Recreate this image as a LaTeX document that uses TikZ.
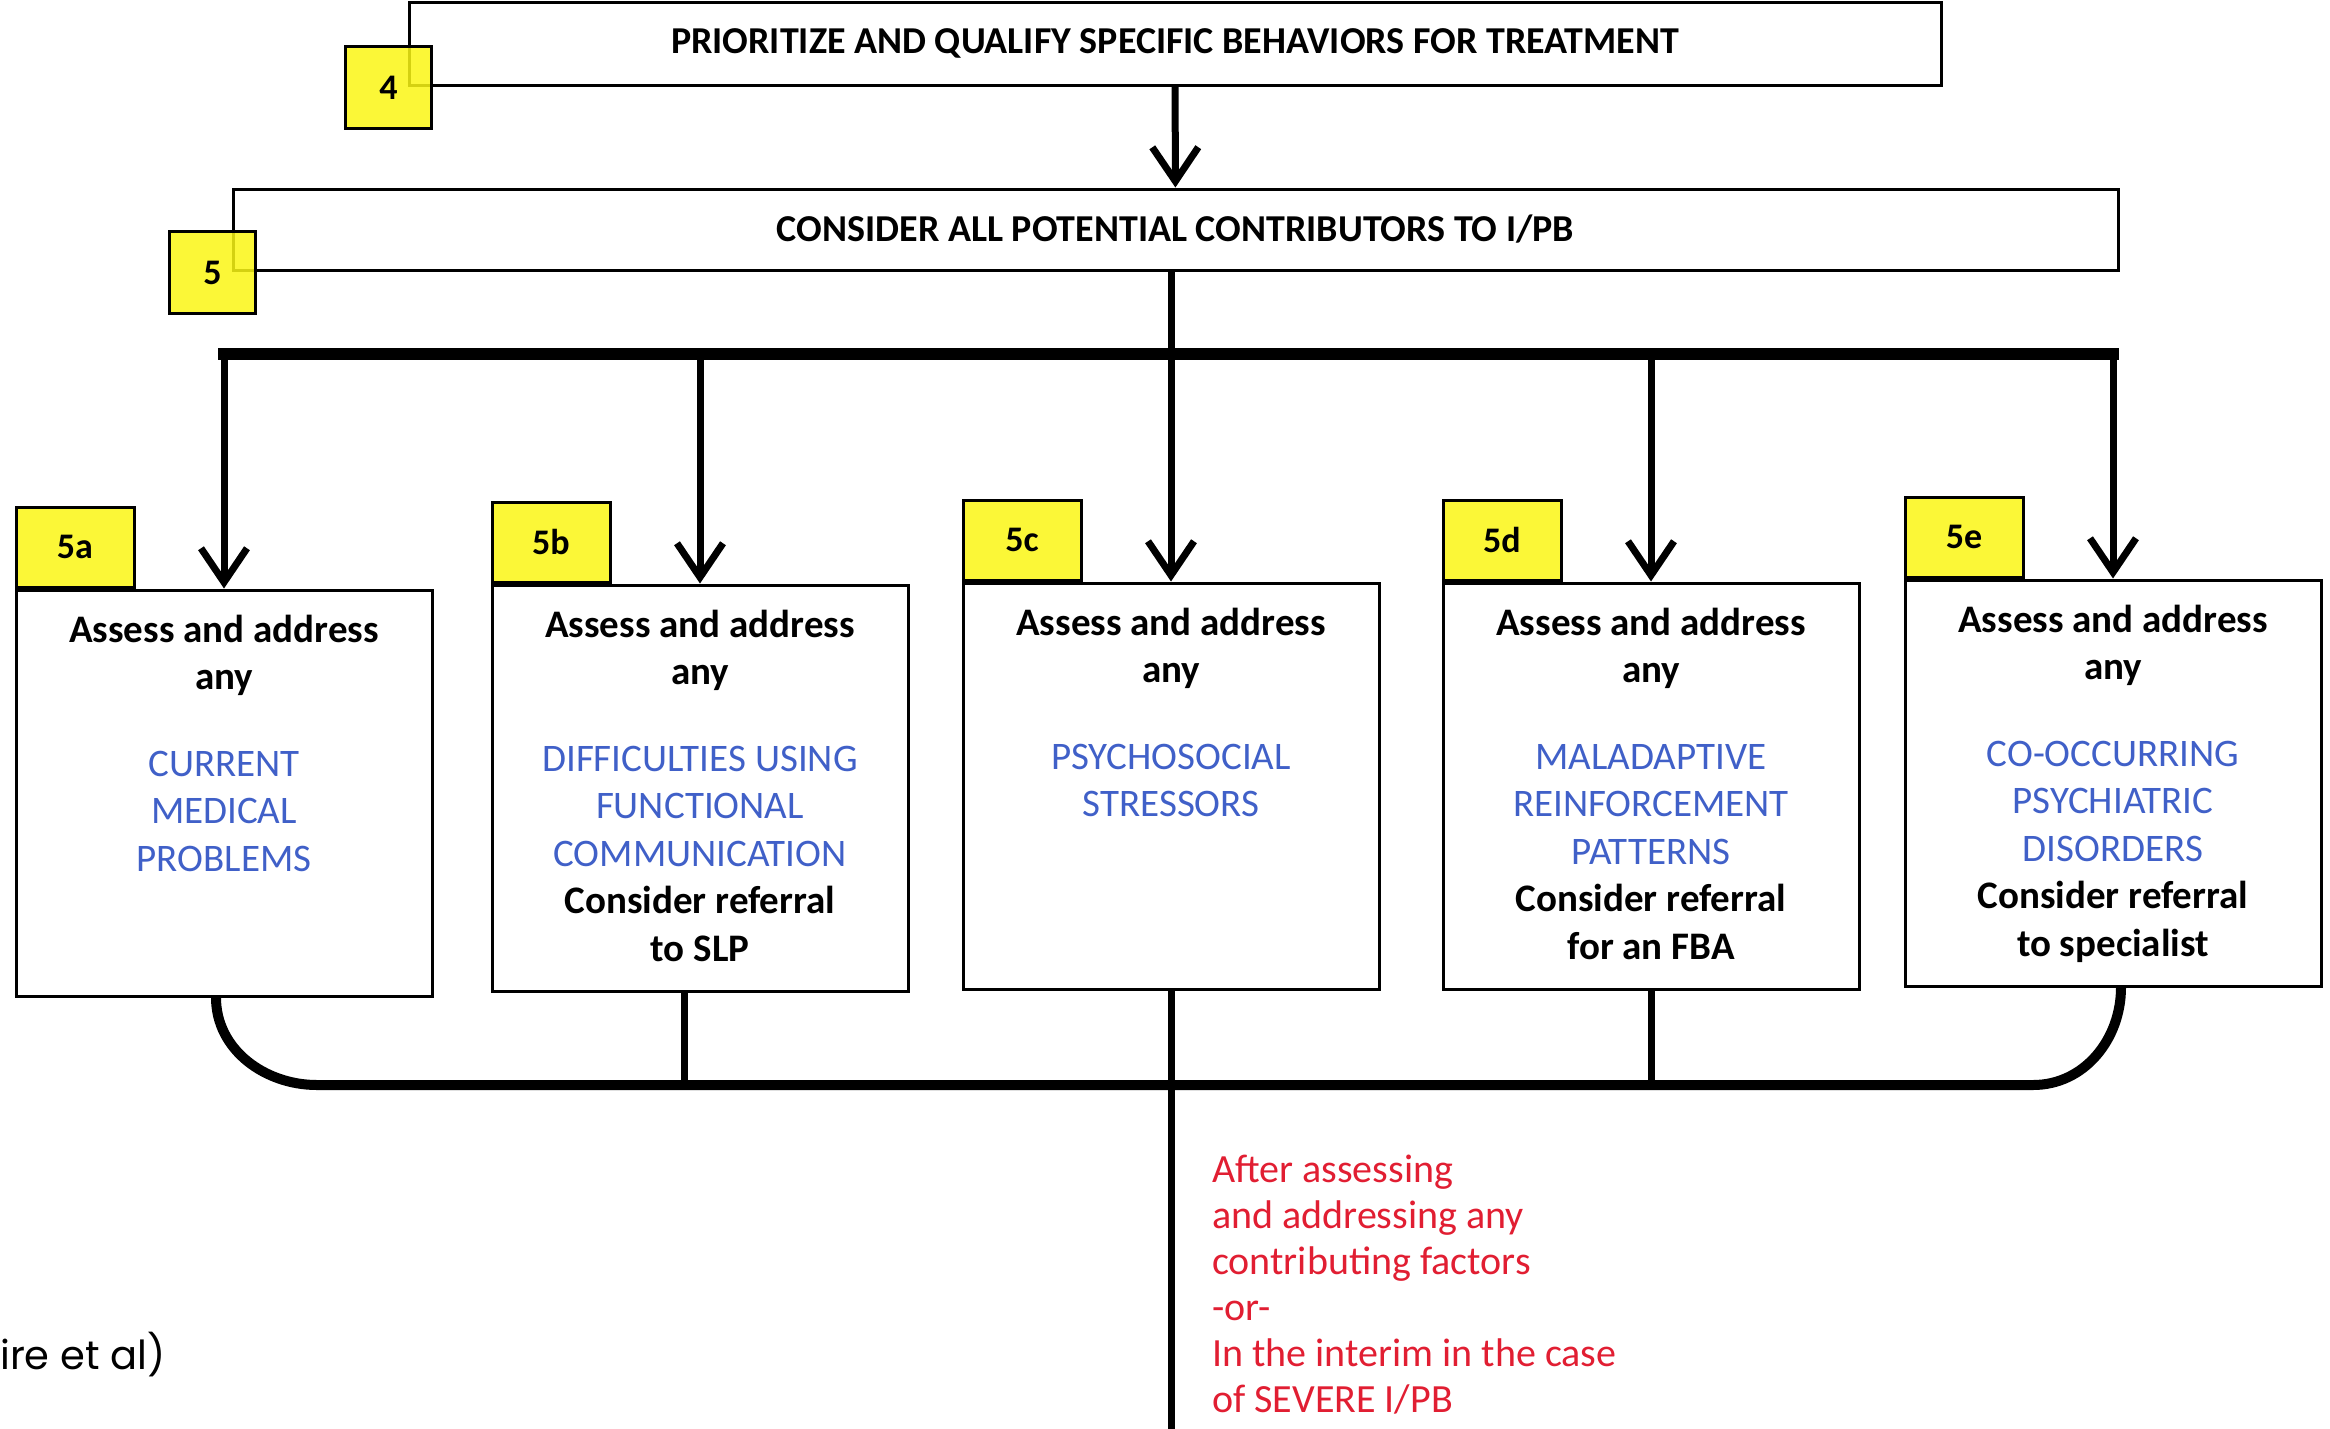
\documentclass[tikz,border=0pt]{standalone}
\usepackage{fontspec}
\setmainfont{Carlito}
\newfontfamily\citefont{Poppins}
\usetikzlibrary{positioning,arrows.meta}
\definecolor{tabyellow}{RGB}{250,246,20}
\definecolor{factorblue}{RGB}{64,96,200}
\definecolor{notered}{RGB}{225,30,50}
\newcommand\blu[1]{\textcolor{factorblue}{\mdseries #1}}

\begin{document}
\begin{tikzpicture}[x=1pt, y=1pt,
  titlebox/.style={draw, line width=3pt, inner sep=0pt, font=\fontsize{38}{42}\selectfont\bfseries},
  tag/.style={draw, line width=3pt, fill=tabyellow, fill opacity=0.85, text opacity=1, minimum width=118pt, minimum height=80pt, font=\fontsize{36}{40}\selectfont\bfseries},
  factorbox/.style={draw, line width=3pt, minimum width=416pt, minimum height=406pt},
  factortext/.style={align=center, inner sep=0pt, font=\fontsize{39}{47.5}\selectfont\bfseries},
  note/.style={align=left, inner sep=0pt, text=notered, font=\fontsize{40}{46}\selectfont},
  cite/.style={inner sep=0pt, font=\citefont\fontsize{40}{44}\selectfont},
  flow/.style={line width=7pt, -{Straight Barb[length=34pt, width=46pt]}},
  busline/.style={line width=12pt, line cap=rect},
  mergeline/.style={line width=10pt},
  stub/.style={line width=7pt}]
\useasboundingbox (0,0) rectangle (2330,-1428);
% steps 4 and 5
\node[titlebox, minimum width=1532pt, minimum height=83pt] (t4) at (1175,-43.5) {PRIORITIZE AND QUALIFY SPECIFIC BEHAVIORS FOR TREATMENT};
\node[titlebox, minimum width=1885pt, minimum height=81pt] (t5) at (1175.5,-229.5) {CONSIDER ALL POTENTIAL CONTRIBUTORS TO I/PB};
\node[tag, minimum width=86pt, minimum height=82pt, xshift=-19pt, yshift=-1pt] (g4) at (t4.south west) {4};
\node[tag, minimum width=86pt, minimum height=82pt, xshift=-19pt, yshift=-1pt] (g5) at (t5.south west) {5};
% contributing factors
\node[factorbox] (b5a) at (224,-793) {};
\node[factorbox] (b5b) at (700,-788) {};
\node[factorbox] (b5c) at (1171,-786) {};
\node[factorbox] (b5d) at (1651,-786) {};
\node[factorbox] (b5e) at (2113,-783) {};
\foreach \n in {a,b,c,d,e}
  \node[tag, anchor=south west] (g5\n) at (b5\n.north west) {5\n};
\node[factortext, anchor=north] (x5a) at ([yshift=-26pt]b5a.north) {Assess and address\\any\\[39pt]\blu{CURRENT}\\\blu{MEDICAL}\\\blu{PROBLEMS}};
\node[factortext, anchor=north] (x5b) at ([yshift=-26pt]b5b.north) {Assess and address\\any\\[39pt]\blu{DIFFICULTIES USING}\\\blu{FUNCTIONAL}\\\blu{COMMUNICATION}\\Consider referral\\to SLP};
\node[factortext, anchor=north] (x5c) at ([yshift=-26pt]b5c.north) {Assess and address\\any\\[39pt]\blu{PSYCHOSOCIAL}\\\blu{STRESSORS}};
\node[factortext, anchor=north] (x5d) at ([yshift=-26pt]b5d.north) {Assess and address\\any\\[39pt]\blu{MALADAPTIVE}\\\blu{REINFORCEMENT}\\\blu{PATTERNS}\\Consider referral\\for an FBA};
\node[factortext, anchor=north] (x5e) at ([yshift=-26pt]b5e.north) {Assess and address\\any\\[39pt]\blu{CO-OCCURRING}\\\blu{PSYCHIATRIC}\\\blu{DISORDERS}\\Consider referral\\to specialist};
\node[note, anchor=north west] (nt) at (1212,-1155) {After assessing\\and addressing any\\contributing factors\\-or-\\In the interim in the case\\of SEVERE I/PB};
\node[cite, anchor=west] (src) at (0,-1355) {ire et al)};
% connectors
\coordinate (bus) at (0,-354);
\coordinate (jl) at (317,-1085);
\coordinate (jr) at (2033,-1085);
\coordinate (tail) at (1171,-1440);
\draw[flow] (t4) -- (t5);
\draw[busline] (b5a.north |- bus) -- (b5e.north |- bus);
\foreach \n in {b5a,b5b,b5d,b5e} \draw[flow] (\n.north |- bus) -- (\n.north);
\draw[flow] (t5.south -| b5c.north) -- (b5c.north);
\draw[mergeline] ([xshift=-8pt]b5a.south) to[out=-90,in=180] (jl) -- (jr) to[out=0,in=-90] ([xshift=8pt]b5e.south);
\draw[stub] ([xshift=-16pt]b5b.south) -- ([xshift=-16pt]b5b.south |- jl);
\draw[stub] (b5d.south) -- (b5d.south |- jl);
\draw[stub] (b5c.south) -- (tail);
\end{tikzpicture}
\end{document}
